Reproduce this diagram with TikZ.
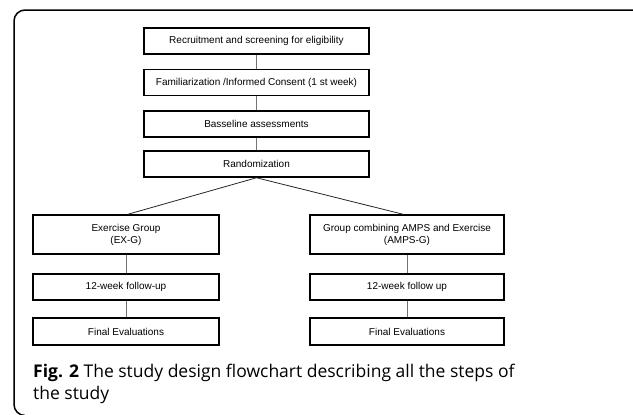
\documentclass[tikz,border=0pt]{standalone}
\usepackage{fontspec}
\setmainfont{Liberation Sans}
\newfontfamily\capfont{Open Sans}
\usetikzlibrary{arrows.meta}
\usetikzlibrary{positioning}

\begin{document}
\begin{tikzpicture}[x=1pt,y=-1pt,
    stepbox/.style={draw=black,line width=1.5pt,fill=white,minimum height=26pt,inner sep=2pt,
        font=\fontsize{10}{12}\selectfont,align=center},
    midbox/.style={stepbox,minimum width=225pt},
    sidebox/.style={stepbox,minimum width=186pt},
    vlink/.style={draw=black!55,line width=0.8pt},
    dlink/.style={draw=black!85,line width=0.8pt}]

	    \useasboundingbox (0,0) rectangle (633,415);

	    % outer frame of the figure
	    \draw[line width=1.5pt,black,rounded corners=11pt] (22,415.5) -- (14,415.5) -- (14,10) -- (650,10);

	    \node[midbox] (recruit) at (256.5,41) {Recruitment and screening for eligibility};
	    \node[midbox] (consent) at (256.5,82.5) {Familiarization /Informed Consent (1 st week)};
	    \node[midbox] (baseline) at (256.5,124) {Basseline assessments};
	    \node[midbox] (random) at (256.5,164) {Randomization};

	    \node[sidebox,minimum height=39pt] (exg) at (126,234.5) {Exercise Group\\(EX-G)};
	    \node[sidebox,minimum height=39pt,minimum width=194pt] (ampsg) at (407,234.5) {Group combining AMPS and Exercise\\(AMPS-G)};
	    \node[sidebox] (followl) at (126,287) {12-week follow-up};
	    \node[sidebox,minimum width=194pt] (followr) at (407,287) {12-week follow up};
	    \node[sidebox,minimum height=27pt] (finall) at (126,331.5) {Final Evaluations};
	    \node[sidebox,minimum height=27pt,minimum width=194pt] (finalr) at (407,331.5) {Final Evaluations};

	    \draw[vlink] (recruit) -- (consent);
	    \draw[vlink] (consent) -- (baseline);
	    \draw[vlink] (baseline) -- (random);
	    \draw[dlink] (random.south) -- ([xshift=2pt]exg.north);
	    \draw[dlink] (random.south) -- ([xshift=-4pt]ampsg.north);
	    \draw[vlink] (exg) -- (followl);
	    \draw[vlink] (followl) -- (finall);
	    \draw[vlink] (ampsg) -- (followr);
	    \draw[vlink] (followr) -- (finalr);

	    % caption: base anchor sits on the last line
	    \node[anchor=base west,align=left,inner sep=0pt,font=\capfont\fontsize{17.5}{22}\selectfont] (caption) at (33,399)
	        {\textbf{Fig. 2} The study design flowchart describing all the steps of\\the study};

\end{tikzpicture}
\end{document}
